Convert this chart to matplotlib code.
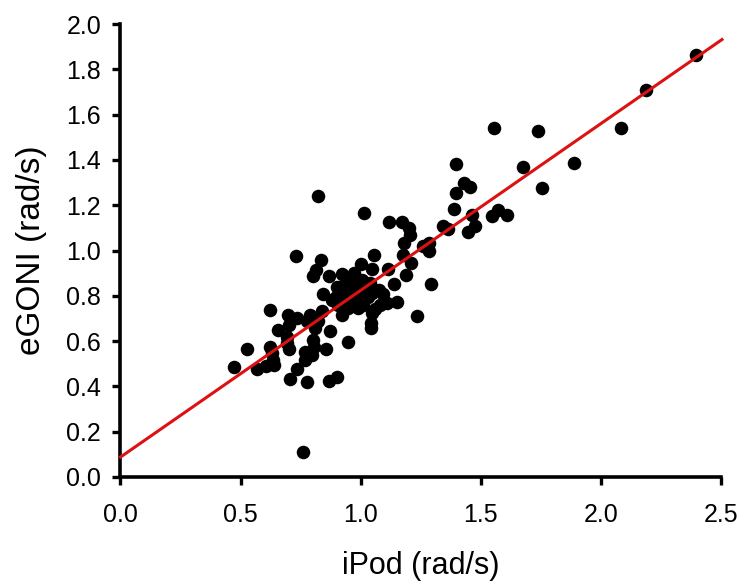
import matplotlib
matplotlib.use("Agg")
import matplotlib.pyplot as plt
import numpy as np

plt.rcParams['font.family'] = ['Liberation Sans', 'DejaVu Sans']

ipod = [2.398, 2.189, 2.084, 1.557, 1.738, 1.887, 1.396, 1.676, 1.430, 1.455,
        1.757, 0.821, 1.396, 1.388, 1.016, 1.549, 1.574, 1.608, 1.464, 1.117,
        1.173, 1.201, 1.342, 1.366, 1.478, 1.447, 1.207, 1.180, 1.261, 1.286,
        1.286, 1.176, 1.210, 1.054, 0.731, 0.833, 1.000, 1.046, 1.114, 0.813,
        0.801, 0.868, 0.922, 0.973, 1.190, 1.295, 1.137, 1.007, 1.041, 1.075,
        0.902, 0.939, 0.843, 0.897, 0.948, 0.998, 1.049, 0.922, 0.973, 1.007,
        1.032, 1.151, 1.109, 1.080, 0.905, 0.948, 0.990, 0.922, 1.049, 1.061,
        1.236, 0.623, 0.699, 0.733, 0.790, 0.838, 0.778, 0.821, 0.702, 0.809,
        0.655, 0.872, 1.044, 1.044, 0.694, 0.801, 0.948, 0.694, 0.623, 0.525,
        0.855, 0.702, 0.804, 0.770, 0.631, 0.796, 0.770, 0.635, 0.606, 0.567,
        0.640, 0.471, 0.736, 0.706, 0.778, 0.868, 0.902, 0.758,
        0.965, 0.930, 0.985, 1.020, 0.915, 0.960, 1.000, 0.880, 1.095, 1.010]
egoni = [1.863, 1.709, 1.543, 1.540, 1.528, 1.388, 1.381, 1.371, 1.300, 1.282,
         1.278, 1.243, 1.253, 1.182, 1.165, 1.153, 1.179, 1.157, 1.157, 1.128,
         1.128, 1.101, 1.109, 1.094, 1.109, 1.084, 1.069, 1.035, 1.018, 1.032,
         0.996, 0.981, 0.944, 0.981, 0.976, 0.959, 0.940, 0.918, 0.918, 0.912,
         0.888, 0.888, 0.897, 0.900, 0.893, 0.851, 0.851, 0.871, 0.856, 0.826,
         0.838, 0.826, 0.807, 0.797, 0.804, 0.819, 0.812, 0.775, 0.790, 0.782,
         0.797, 0.771, 0.768, 0.760, 0.760, 0.746, 0.746, 0.716, 0.724, 0.741,
         0.712, 0.738, 0.716, 0.701, 0.716, 0.735, 0.687, 0.687, 0.672, 0.657,
         0.647, 0.646, 0.679, 0.657, 0.618, 0.606, 0.594, 0.591, 0.576, 0.566,
         0.566, 0.565, 0.576, 0.554, 0.547, 0.540, 0.518, 0.518, 0.488, 0.476,
         0.496, 0.484, 0.479, 0.432, 0.418, 0.422, 0.440, 0.109,
         0.871, 0.850, 0.840, 0.800, 0.820, 0.770, 0.830, 0.780, 0.810, 0.760]

intercept = 0.088
slope = 0.736
xticks = [0.0, 0.5, 1.0, 1.5, 2.0, 2.5]
yticks = [0.0, 0.2, 0.4, 0.6, 0.8, 1.0, 1.2, 1.4, 1.6, 1.8, 2.0]

fig = plt.figure(figsize=(7.37, 5.87), dpi=100)
ax = fig.add_axes([0.1635, 0.1874, 0.8145, 0.7716])

ax.scatter(ipod, egoni, s=95, color='black', zorder=2, linewidths=0)
xl = np.array([0.0, 2.505])
ax.plot(xl, intercept + slope * xl, color='#dd1111', lw=2.2, zorder=3, clip_on=False)

ax.set_xlim(0, 2.5)
ax.set_ylim(0, 2.0)
ax.set_xticks(xticks)
ax.set_yticks(yticks)
ax.set_xticklabels([f"{v:.1f}" for v in xticks])
ax.set_yticklabels([f"{v:.1f}" for v in yticks])
for s in ['top', 'right']:
    ax.spines[s].set_visible(False)
for s in ['left', 'bottom']:
    ax.spines[s].set_linewidth(2.6)
ax.tick_params(axis='both', direction='out', length=6, width=2.4, labelsize=18)
ax.tick_params(axis='x', pad=13)
ax.tick_params(axis='y', pad=8)
ax.set_xlabel('iPod (rad/s)', fontsize=22, labelpad=17)
ax.set_ylabel('eGONI (rad/s)', fontsize=24, labelpad=14)

fig.savefig('out.png', dpi=100)
